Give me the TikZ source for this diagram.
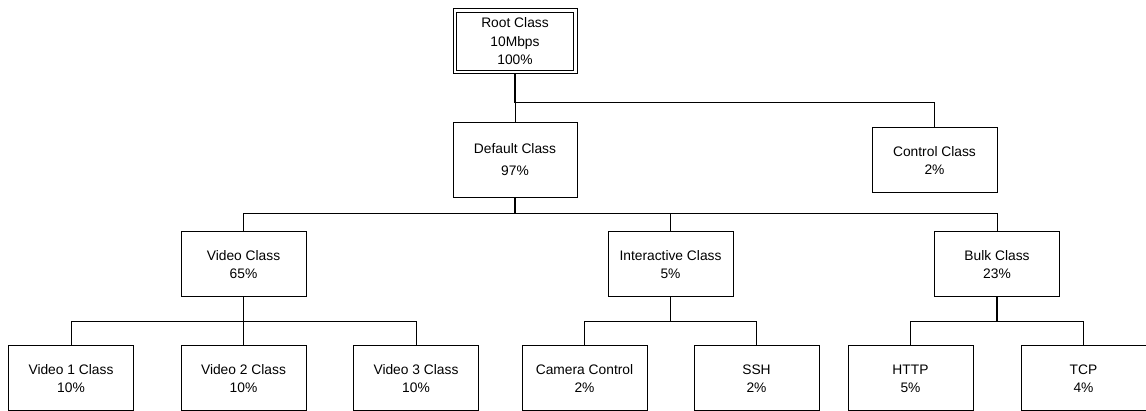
\documentclass[tikz,border=0pt]{standalone}
\usepackage{fontspec}
\setmainfont{Liberation Sans}
\begin{document}
\begin{tikzpicture}[x=1pt,y=-1pt,
  cls/.style={draw=black, line width=1pt, fill=white, inner sep=0pt, outer sep=0pt,
    minimum width=125pt, minimum height=65pt, align=center,
    font=\fontsize{13.8}{18}\selectfont},
  rootcls/.style={cls, minimum width=124pt, minimum height=65pt,
    font=\fontsize{13.8}{18.5}\selectfont},
  link/.style={draw=black, line width=1pt},
  trunk/.style={draw=black, line width=1.5pt}
]
\useasboundingbox (0,0) rectangle (1146,411);

% bar levels
\coordinate (bar1) at (0,103);
\coordinate (bar2) at (0,214);
\coordinate (bar3) at (0,322);

% nodes
\node[rootcls] (root) at (515,41.5) {Root Class\\10Mbps\\100\%};
\draw[line width=1pt] ([xshift=3.5pt,yshift=-3.5pt]root.north west) rectangle ([xshift=-3.5pt,yshift=3.5pt]root.south east);
\node[cls, minimum width=124pt, minimum height=75pt, font=\fontsize{13.8}{20}\selectfont] (default) at (515,160.5) {\raisebox{4.5pt}{\begin{tabular}{@{}c@{}}Default Class\\[1.5pt]97\%\end{tabular}}};
\node[cls] (control) at (934.5,160.5) {Control Class\\2\%};

\node[cls] (video) at (243.5,264.5) {Video Class\\65\%};
\node[cls] (inter) at (670.5,264.5) {Interactive Class\\5\%};
\node[cls] (bulk) at (997,264.5) {Bulk Class\\23\%};

\node[cls] (v1) at (71,378.5) {Video 1 Class\\10\%};
\node[cls] (v2) at (243.5,378.5) {Video 2 Class\\10\%};
\node[cls] (v3) at (416,378.5) {Video 3 Class\\10\%};
\node[cls] (cam) at (584.5,378.5) {Camera Control\\2\%};
\node[cls] (ssh) at (756.5,378.5) {SSH\\2\%};
\node[cls] (http) at (910.5,378.5) {HTTP\\5\%};
\node[cls] (tcp) at (1083.5,378.5) {TCP\\4\%};

% level 1
\draw[trunk] (root.south) -- (root.south |- bar1);
\draw[link] (root.south |- bar1) -- (default.north);
\draw[link] (root.south |- bar1) -| (control.north);

% level 2
\draw[trunk] (default.south) -- (default.south |- bar2);
\draw[link] (video.north) |- (bulk.north |- bar2) -- (bulk.north);
\draw[link] (inter.north) -- (inter.north |- bar2);

% level 3
\draw[trunk] (video.south) -- (video.south |- bar3);
\draw[link] (v1.north) |- (v3.north |- bar3) -- (v3.north);
\draw[link] (v2.north) -- (v2.north |- bar3);

\draw[trunk] (inter.south) -- (inter.south |- bar3);
\draw[link] (cam.north) |- (ssh.north |- bar3) -- (ssh.north);

\draw[trunk] (bulk.south) -- (bulk.south |- bar3);
\draw[link] (http.north) |- (tcp.north |- bar3) -- (tcp.north);
\end{tikzpicture}
\end{document}
